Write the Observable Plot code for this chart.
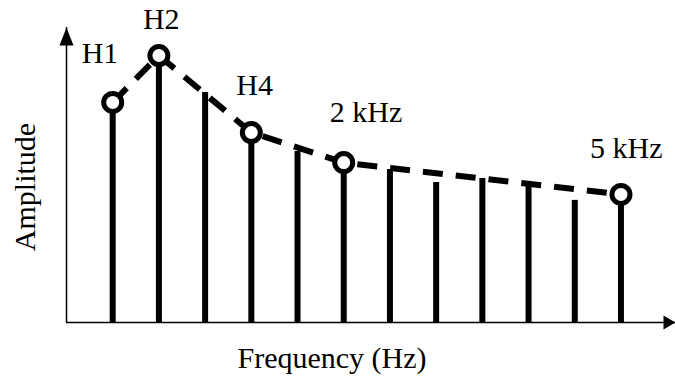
<!DOCTYPE html>
<html>
<head>
<meta charset="utf-8">
<script src="https://cdn.jsdelivr.net/npm/d3@7"></script>
<script src="https://cdn.jsdelivr.net/npm/@observablehq/plot@0.6"></script>
<style>
  html, body { margin: 0; padding: 0; background: #fff; }
  #chart svg { display: block; }
  #chart svg, #chart svg text { font-family: "Liberation Serif", "Times New Roman", serif !important; }
</style>
</head>
<body>
<div id="chart"></div>
<script>
// ---- data ----
const harmonics = [1, 2, 3, 4, 5, 6, 7, 8, 9, 10, 11, 12];
const amplitudes = [74.6, 90.5, 78, 64.4, 58, 54.2, 51.9, 47.5, 48.8, 46.8, 41.4, 43.4];
const labeledHarmonics = [1, 2, 4, 6, 12];
const labelTexts = ["H1", "H2", "H4", "2 kHz", "5 kHz"];
const xLabel = "Frequency (Hz)";
const yLabel = "Amplitude";

// ---- build tables ----
const stems = harmonics.map((h, i) => ({h, a: amplitudes[i]}));
const marked = labeledHarmonics.map((h, i) => ({h, a: amplitudes[harmonics.indexOf(h)], label: labelTexts[i]}));

const xMax = 13.18, yMax = 100;
const fs = 30;

// label offsets (style only)
const labelOffsets = {
  "H1": [-31, -49],
  "H2": [-16, -36],
  "H4": [-15, -47],
  "2 kHz": [-14, -50],
  "5 kHz": [-31, -46]
};

// arrowhead symbols: tip at origin, pointing up
const yHead = {draw(ctx) { ctx.moveTo(0, 0); ctx.lineTo(7, 18); ctx.lineTo(-7, 18); ctx.closePath(); }};
const xHead = {draw(ctx) { ctx.moveTo(0, 0); ctx.lineTo(7, 12); ctx.lineTo(-7, 12); ctx.closePath(); }};

const chart = Plot.plot({
  width: 675,
  height: 381,
  marginLeft: 66,
  marginRight: 0,
  marginTop: 27,
  marginBottom: 59,
  style: {background: "#fff", overflow: "visible"},
  x: {domain: [0, xMax], axis: null},
  y: {domain: [0, yMax], axis: null},
  marks: [
    // axes
    Plot.ruleX([0], {x: d => d, y1: 0, y2: yMax, stroke: "black", strokeWidth: 1.5}),
    Plot.ruleY([0], {y: d => d, x1: 0, x2: xMax, stroke: "black", strokeWidth: 1.5}),
    Plot.dot([0], {x: 0, y: yMax, symbol: yHead, fill: "black", stroke: null}),
    Plot.dot([0], {x: xMax, y: 0, symbol: xHead, fill: "black", stroke: null, rotate: 90}),
    // stems
    Plot.ruleX(stems, {x: "h", y1: 0, y2: "a", stroke: "black", strokeWidth: 6}),
    // dashed envelope
    Plot.line(marked, {x: "h", y: "a", stroke: "black", strokeWidth: 6, strokeDasharray: "20,13", strokeLinecap: "butt"}),
    // circles
    Plot.dot(marked, {x: "h", y: "a", r: 9, fill: "white", stroke: "black", strokeWidth: 5}),
    // labels
    ...marked.map(d => Plot.text([d], {
      x: "h", y: "a", text: "label",
      dx: labelOffsets[d.label][0], dy: labelOffsets[d.label][1],
      textAnchor: "start", lineAnchor: "middle", fontSize: fs, fill: "black"
    })),
    // axis titles
    Plot.text([xLabel], {frameAnchor: "bottom", text: d => d, textAnchor: "middle", lineAnchor: "middle", dx: -39, dy: 36, fontSize: fs, fill: "black"}),
    Plot.text([yLabel], {frameAnchor: "left", text: d => d, textAnchor: "middle", lineAnchor: "middle", rotate: -90, dx: -41, dy: 12, fontSize: fs, fill: "black"})
  ]
});
document.getElementById("chart").appendChild(chart);
</script>
</body>
</html>
